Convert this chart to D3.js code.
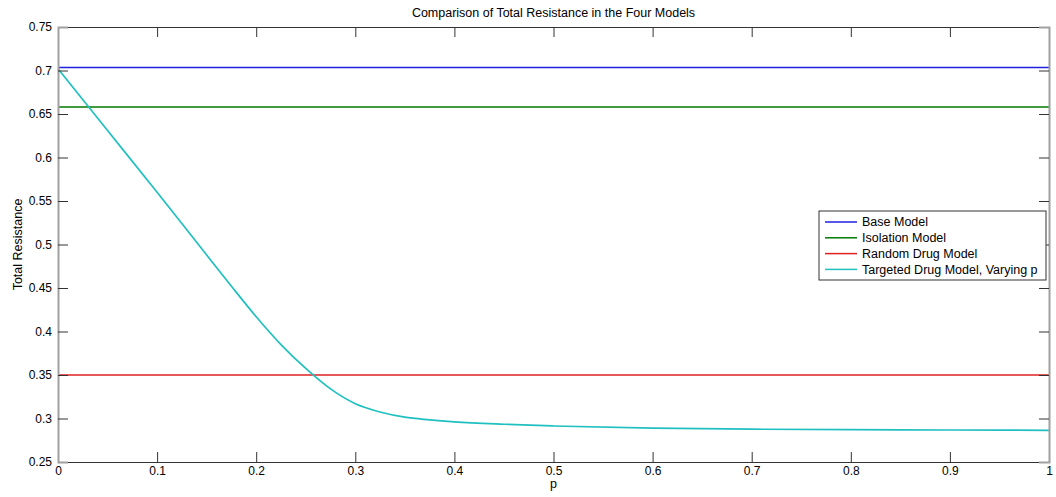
<!DOCTYPE html>
<html>
<head>
<meta charset="utf-8">
<script src="https://cdn.jsdelivr.net/npm/d3@7"></script>
<style>
  body { margin: 0; background: #fff; }
  text { font-family: "Liberation Sans", Arial, sans-serif; fill: #000; }
</style>
</head>
<body>
<div id="chart"></div>
<script>
const width = 1056;
const height = 497;
const marginTop = 27;
const marginRight = 7;
const marginBottom = 35;
const marginLeft = 58;

// Data
const seriesNames = ['Base Model', 'Isolation Model', 'Random Drug Model', 'Targeted Drug Model, Varying p'];
const seriesColors = ['#2020e0', '#007a00', '#e02020', '#20c0c0'];
const baseValue = 0.7035;
const isolationValue = 0.658;
const randomValue = 0.35;
const pValues = [0, 0.05, 0.1, 0.15, 0.175, 0.2, 0.225, 0.25, 0.275, 0.3, 0.325, 0.35, 0.375, 0.4, 0.45, 0.5, 0.6, 0.7, 0.8, 0.9, 1.0];
const targetedValues = [0.702, 0.631, 0.560, 0.488, 0.452, 0.417, 0.385, 0.3575, 0.334, 0.317, 0.3075, 0.3015, 0.2985, 0.2962, 0.2934, 0.2914, 0.2889, 0.2877, 0.2872, 0.2868, 0.2864];
const xTicks = [0, 0.1, 0.2, 0.3, 0.4, 0.5, 0.6, 0.7, 0.8, 0.9, 1];
const yTicks = [0.25, 0.3, 0.35, 0.4, 0.45, 0.5, 0.55, 0.6, 0.65, 0.7, 0.75];

const x = d3.scaleLinear().domain([0, 1]).range([marginLeft, width - marginRight]);
const y = d3.scaleLinear().domain([0.25, 0.75]).range([height - marginBottom, marginTop]);

const svg = d3.select('#chart')
  .append('svg')
  .attr('width', width)
  .attr('height', height);

// Horizontal reference lines
const flatLines = [baseValue, isolationValue, randomValue];
svg.selectAll('.flat')
  .data(flatLines)
  .enter()
  .append('line')
  .attr('class', 'flat')
  .attr('x1', x(0))
  .attr('x2', x(1))
  .attr('y1', d => y(d))
  .attr('y2', d => y(d))
  .attr('stroke', (d, i) => seriesColors[i])
  .attr('stroke-width', 1.5);

// Targeted drug curve
const line = d3.line()
  .x((d, i) => x(pValues[i]))
  .y(d => y(d))
  .curve(d3.curveMonotoneX);

svg.append('path')
  .datum(targetedValues)
  .attr('fill', 'none')
  .attr('stroke', seriesColors[3])
  .attr('stroke-width', 1.7)
  .attr('d', line);

// Axes (MATLAB style box with inward ticks)
const tick = 10;
const fmt = d => String(+d.toFixed(2));

svg.append('g')
  .attr('transform', `translate(0,${height - marginBottom})`)
  .call(d3.axisBottom(x).tickValues(xTicks).tickSize(-tick).tickPadding(4).tickFormat(fmt));

svg.append('g')
  .attr('transform', `translate(0,${marginTop})`)
  .call(d3.axisTop(x).tickValues(xTicks).tickSize(-tick).tickFormat(''));

svg.append('g')
  .attr('class', 'side')
  .attr('transform', `translate(${marginLeft},0)`)
  .call(d3.axisLeft(y).tickValues(yTicks).tickSize(-tick).tickPadding(6).tickFormat(fmt));

svg.append('g')
  .attr('class', 'side')
  .attr('transform', `translate(${width - marginRight},0)`)
  .call(d3.axisRight(y).tickValues(yTicks).tickSize(-tick).tickFormat(''));

svg.selectAll('.domain').attr('stroke', '#333');
svg.selectAll('.side .domain').attr('stroke', '#a0a0a0').attr('stroke-width', 2);
svg.selectAll('.tick line').attr('stroke', '#333');
svg.selectAll('.tick text').style('font-size', '12px').attr('fill', '#000');

// Remove ticks drawn on the box corners
svg.selectAll('.tick').filter(d => d === 0 || d === 1 || d === 0.25 || d === 0.75)
  .select('line').remove();

// Title and axis labels
svg.append('text')
  .attr('x', (marginLeft + width - marginRight) / 2)
  .attr('y', 17)
  .style('text-anchor', 'middle')
  .style('font-size', '12.5px')
  .text('Comparison of Total Resistance in the Four Models');

svg.append('text')
  .attr('x', (marginLeft + width - marginRight) / 2)
  .attr('y', 488)
  .style('text-anchor', 'middle')
  .style('font-size', '12.5px')
  .text('p');

svg.append('text')
  .attr('transform', 'rotate(-90)')
  .attr('x', -(marginTop + height - marginBottom) / 2)
  .attr('y', 22)
  .style('text-anchor', 'middle')
  .style('font-size', '12.5px')
  .text('Total Resistance');

// Legend
const legend = svg.append('g').attr('transform', 'translate(819,211)');
legend.append('rect')
  .attr('width', 227)
  .attr('height', 69)
  .attr('fill', '#fff')
  .attr('stroke', '#333');

const rows = legend.selectAll('.row')
  .data(seriesNames)
  .enter()
  .append('g')
  .attr('transform', (d, i) => `translate(0,${11 + i * 15.8})`);

rows.append('line')
  .attr('x1', 6).attr('x2', 38)
  .attr('stroke', (d, i) => seriesColors[i])
  .attr('stroke-width', 1.5);

rows.append('text')
  .attr('x', 43)
  .attr('dy', '0.35em')
  .style('font-size', '12.5px')
  .text(d => d);
</script>
</body>
</html>
